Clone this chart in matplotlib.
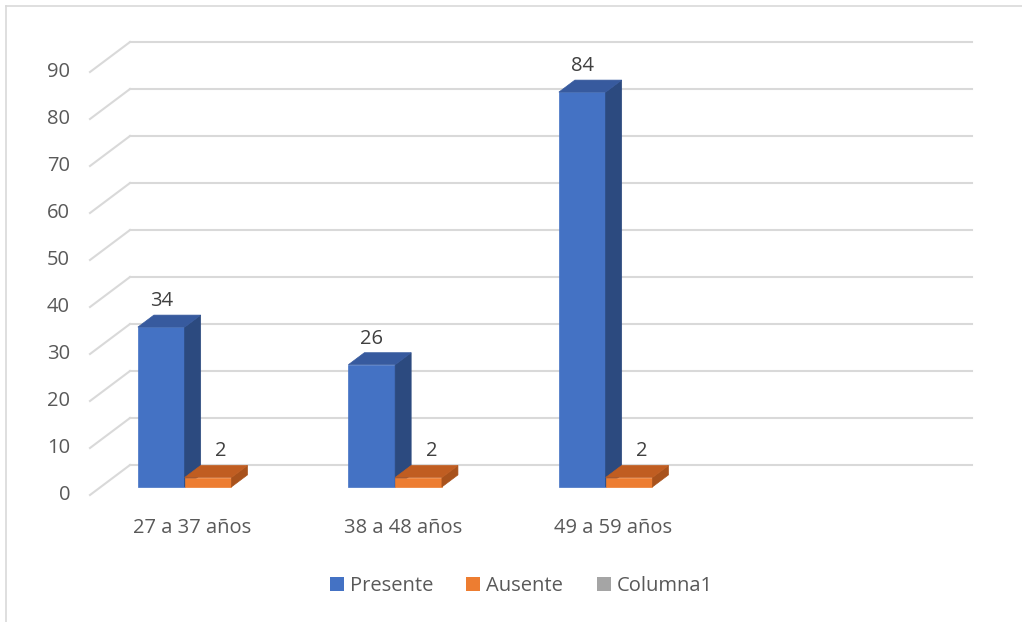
import numpy as np
import matplotlib.pyplot as plt
from matplotlib.patches import Polygon, Patch
from matplotlib.lines import Line2D

categorias = ["27 a 37 años", "38 a 48 años", "49 a 59 años", ""]
presente = [34, 26, 84]
ausente = [2, 2, 2]
series = ["Presente", "Ausente", "Columna1"]
yticks = [0, 10, 20, 30, 40, 50, 60, 70, 80, 90]

# front / top / side colours for each series
colores = {
    "Presente": ("#4472C4", "#375A9E", "#2C4A7F"),
    "Ausente": ("#ED7D31", "#C05D21", "#A8521C"),
    "Columna1": ("#A5A5A5", "#8A8A8A", "#777777"),
}

plt.rcParams['font.family'] = ['Open Sans', 'DejaVu Sans']
fs = 14.5

W, H = 1022, 622
fig = plt.figure(figsize=(W / 100, H / 100), dpi=100)
ax = fig.add_axes([130 / W, (H - 465) / H, 842 / W, 423 / H])
ax.set_xlim(0, len(categorias))
ax.set_ylim(0, 90)
ax.axis('off')

# oblique depth shear (d=0 back wall, d=1 front edge)
DX = -40 / 210.5
DY = -30 / 4.7


def P(u, v, d):
    return (u + DX * d, v + DY * d)


grid = "#D9D9D9"
for t in yticks:
    ax.plot([0, len(categorias)], [t, t], color=grid, lw=1.5, clip_on=False, zorder=1)
    x0, y0 = P(0, t, 0)
    x1, y1 = P(0, t, 1)
    ax.plot([x0, x1], [y0, y1], color=grid, lw=1.5, clip_on=False, zorder=1)
    ax.text(x1 - 20 / 210.5, y1, str(t), ha='right', va='center',
            fontsize=fs, color="#595959")

for i, c in enumerate(categorias):
    x, y = P(i + 0.5, 0, 1)
    ax.text(x - 3 / 210.5, y - 7.0, c, ha='center', va='center', fontsize=fs, color="#595959")

w = 1 / 4.5
d0, d1 = 0.33, 0.73


def barra(u0, h, cols, z):
    u1 = u0 + w
    fr, tp, sd = cols
    caras = [
        ([P(u0, 0, d1), P(u1, 0, d1), P(u1, h, d1), P(u0, h, d1)], fr),
        ([P(u1, 0, d1), P(u1, 0, d0), P(u1, h, d0), P(u1, h, d1)], sd),
        ([P(u0, h, d1), P(u1, h, d1), P(u1, h, d0), P(u0, h, d0)], tp),
    ]
    for pts, col in caras:
        ax.add_patch(Polygon(pts, closed=True, facecolor=col, edgecolor=col,
                             lw=0.5, zorder=z, clip_on=False))


z = 3
for i in range(len(presente)):
    for k, (nombre, vals) in enumerate([("Presente", presente), ("Ausente", ausente)]):
        u0 = i + (0.75 + k) * w + 2 / 210.5
        barra(u0, vals[i], colores[nombre], z)
        z += 1
        lx, ly = P(u0 + w / 2, vals[i], d1)
        if k:
            lx += 13 / 210.5
        ax.text(lx, ly + 26 / 4.7, str(vals[i]),
                ha='center', va='center', fontsize=fs, color="#404040", zorder=20)

handles = [Patch(facecolor=colores[s][0], edgecolor='none', label=s) for s in series]
fig.legend(handles=handles, loc='center', bbox_to_anchor=(0.51, 36 / H), ncol=3,
           frameon=False, fontsize=fs, handlelength=0.7, handleheight=0.7,
           handletextpad=0.3, columnspacing=1.65, labelcolor="#595959")

# outer chart border
fig.add_artist(Line2D([6 / W, 6 / W], [0, 1 - 6 / H], color=grid, lw=1.2))
fig.add_artist(Line2D([6 / W, 1], [1 - 6 / H, 1 - 6 / H], color=grid, lw=1.2))

fig.savefig("out.png", dpi=100)
